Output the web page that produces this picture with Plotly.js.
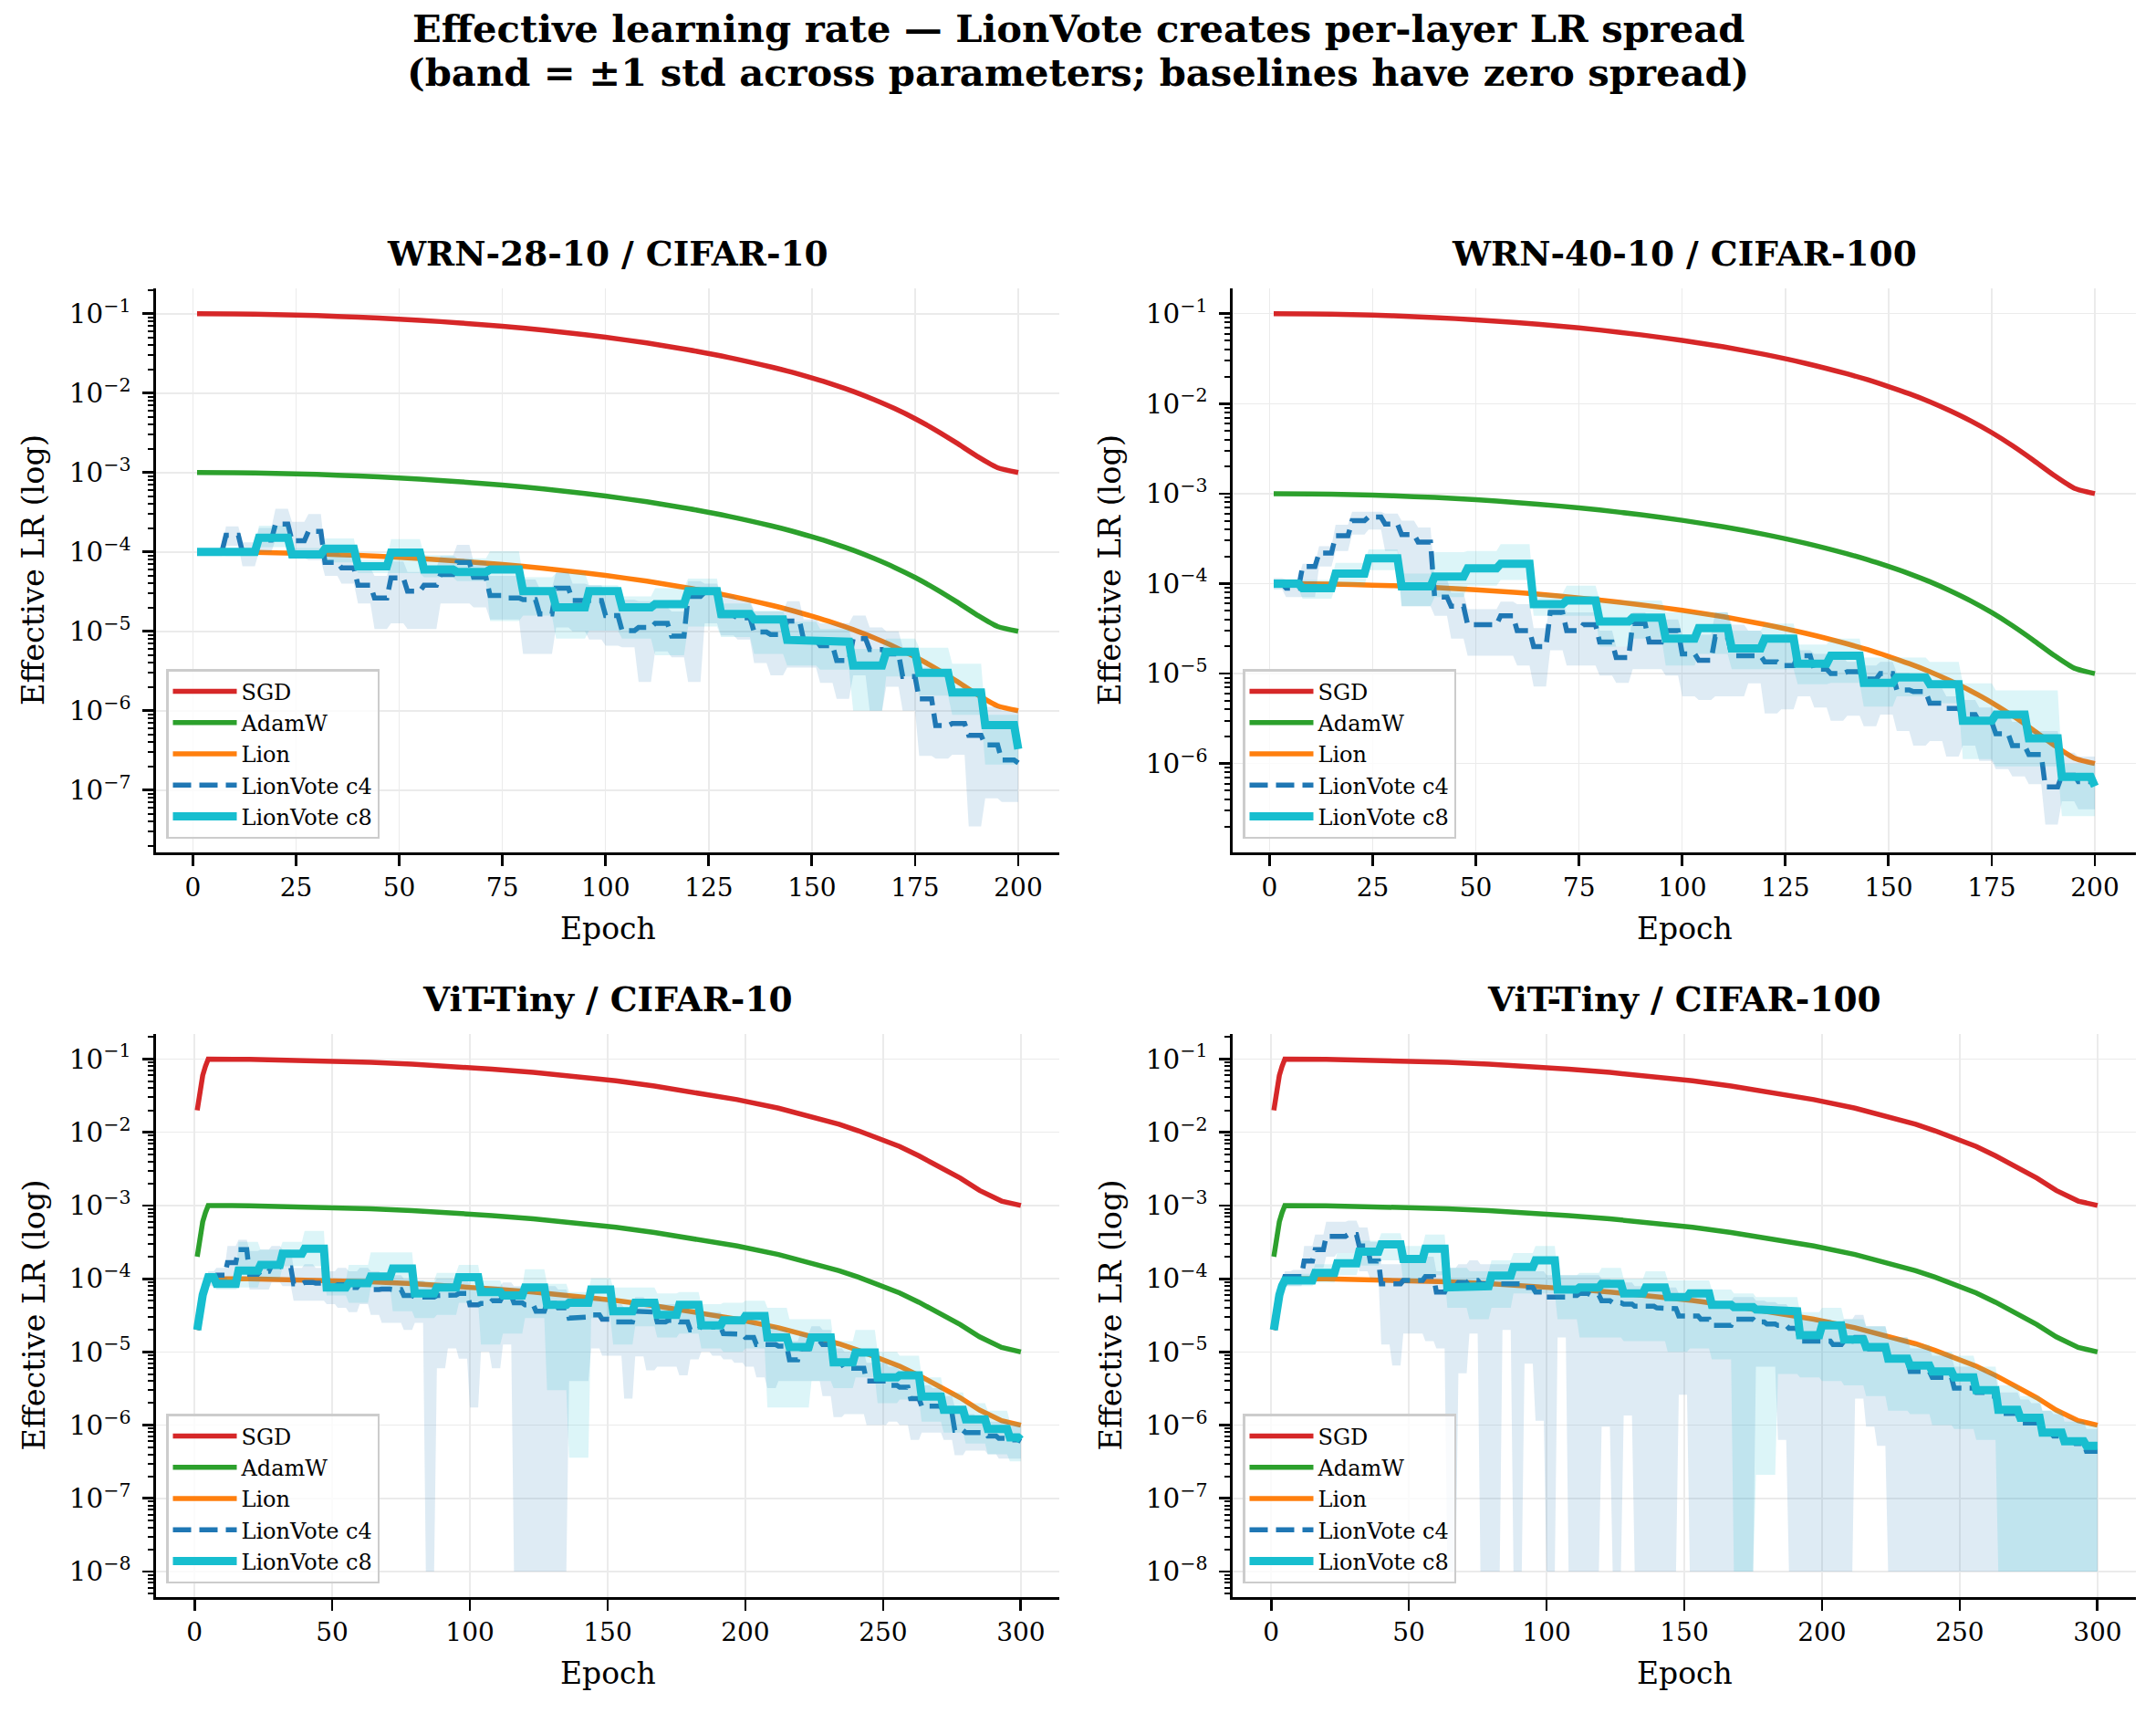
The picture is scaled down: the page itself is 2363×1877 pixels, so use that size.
<!DOCTYPE html>
<html>
<head>
<meta charset="utf-8">
<script src="https://cdn.plot.ly/plotly-3.0.1.min.js"></script>
<style>html,body{margin:0;padding:0;background:#fff;}</style>
</head>
<body>
<div id="chart" style="width:2363px;height:1877px;"></div>
<script>
// ---------- baseline schedules ----------
const EPOCHS_BASE_200 = [1,10,20,30,40,50,60,70,80,90,100,110,120,130,140,145,150,155,160,165,170,175,180,185,190,195,200];
const SGD_200   = [0.1,0.0994,0.0976,0.0946,0.0906,0.0855,0.0796,0.0730,0.0658,0.0582,0.0505,0.0428,0.0352,0.0280,0.0214,0.0184,0.0155,0.0129,0.0105,0.0083,0.0064,0.00477,0.00342,0.00237,0.00161,0.00115,0.0010];
const ADAMW_200 = [1.0e-3,9.94e-4,9.76e-4,9.46e-4,9.06e-4,8.55e-4,7.96e-4,7.30e-4,6.58e-4,5.82e-4,5.05e-4,4.28e-4,3.52e-4,2.80e-4,2.14e-4,1.84e-4,1.55e-4,1.29e-4,1.05e-4,8.3e-5,6.4e-5,4.77e-5,3.42e-5,2.37e-5,1.61e-5,1.15e-5,1.0e-5];
const LION_200  = [1.0e-4,9.94e-5,9.76e-5,9.46e-5,9.06e-5,8.55e-5,7.96e-5,7.30e-5,6.58e-5,5.82e-5,5.05e-5,4.28e-5,3.52e-5,2.80e-5,2.14e-5,1.84e-5,1.55e-5,1.29e-5,1.05e-5,8.3e-6,6.4e-6,4.77e-6,3.42e-6,2.37e-6,1.61e-6,1.15e-6,1.0e-6];

const EPOCHS_BASE_300 = [1,2,3,4,5,20,34,49,64,79,94,108,123,138,153,167,182,197,212,219,226,234,241,248,256,263,270,278,285,293,300];
const SGD_300   = [0.02,0.04,0.06,0.08,0.1,0.0994,0.0976,0.0946,0.0906,0.0855,0.0796,0.0730,0.0658,0.0582,0.0505,0.0428,0.0352,0.0280,0.0214,0.0184,0.0155,0.0129,0.0105,0.0083,0.0064,0.00477,0.00342,0.00237,0.00161,0.00115,0.0010];
const ADAMW_300 = [2e-4,4e-4,6e-4,8e-4,1e-3,9.94e-4,9.76e-4,9.46e-4,9.06e-4,8.55e-4,7.96e-4,7.30e-4,6.58e-4,5.82e-4,5.05e-4,4.28e-4,3.52e-4,2.80e-4,2.14e-4,1.84e-4,1.55e-4,1.29e-4,1.05e-4,8.3e-5,6.4e-5,4.77e-5,3.42e-5,2.37e-5,1.61e-5,1.15e-5,1.0e-5];
const LION_300  = [2e-5,4e-5,6e-5,8e-5,1e-4,9.94e-5,9.76e-5,9.46e-5,9.06e-5,8.55e-5,7.96e-5,7.30e-5,6.58e-5,5.82e-5,5.05e-5,4.28e-5,3.52e-5,2.80e-5,2.14e-5,1.84e-5,1.55e-5,1.29e-5,1.05e-5,8.3e-6,6.4e-6,4.77e-6,3.42e-6,2.37e-6,1.61e-6,1.15e-6,1.0e-6];

// ---------- LionVote block starts (value holds until the next block) ----------
const EPOCHS_C4_200 = [1,4,8,12,16,20,24,28,32,36,40,44,48,52,56,60,64,68,72,76,80,84,88,92,96,100,104,108,112,116,120,124,128,132,136,140,144,148,152,156,160,164,168,172,176,180,184,188,192,196,200];
const EPOCHS_C8_200 = [1,8,16,24,32,40,48,56,64,72,80,88,96,104,112,120,128,136,144,152,160,168,176,184,192,200];
const EPOCHS_C4_300 = [1,2,3,4,5,8,12,16,20,24,28,32,36,40,44,48,52,56,60,64,68,72,76,80,84,88,92,96,100,104,108,112,116,120,124,128,132,136,140,144,148,152,156,160,164,168,172,176,180,184,188,192,196,200,204,208,212,216,220,224,228,232,236,240,244,248,252,256,260,264,268,272,276,280,284,288,292,296,300];
const EPOCHS_C8_300 = [1,2,3,4,5,8,16,24,32,40,48,56,64,72,80,88,96,104,112,120,128,136,144,152,160,168,176,184,192,200,208,216,224,232,240,248,256,264,272,280,288,296,300];

// WRN-28-10 / CIFAR-10
const W28_C4    = [1.0e-4,1.0e-4,1.62e-4,1.0e-4,1.41e-4,2.24e-4,1.38e-4,1.82e-4,7.4e-5,6.3e-5,3.8e-5,2.63e-5,4.7e-5,3.2e-5,3.8e-5,5.2e-5,7.4e-5,4.8e-5,2.82e-5,2.63e-5,2.51e-5,1.66e-5,3.5e-5,2.45e-5,2.45e-5,1.58e-5,1.02e-5,1.12e-5,1.26e-5,8.7e-6,2.75e-5,3.1e-5,1.58e-5,1.48e-5,9.8e-6,9.1e-6,1.35e-5,7.8e-6,6.6e-6,4.3e-6,8.1e-6,5.9e-6,5.2e-6,2.7e-6,1.41e-6,6.5e-7,6.9e-7,4.9e-7,3.7e-7,2.4e-7,2.2e-7];
const W28_C4_LO = [8.9e-5,8.9e-5,1.2e-4,6.6e-5,1.0e-4,1.41e-4,8.3e-5,7.9e-5,5.0e-5,4.0e-5,2.24e-5,1.07e-5,1.26e-5,1.07e-5,1.07e-5,2.24e-5,2.24e-5,2.0e-5,1.41e-5,1.41e-5,5.2e-6,5.2e-6,1.12e-5,1.0e-5,7.9e-6,6.6e-6,6.3e-6,2.3e-6,5.6e-6,4.7e-6,2.3e-6,1.26e-5,8.9e-6,7.9e-6,4.0e-6,2.8e-6,3.5e-6,3.5e-6,2.24e-6,1.41e-6,2.8e-6,1.0e-6,2.0e-6,1.0e-6,2.7e-7,2.5e-7,2.8e-7,3.5e-8,7.9e-8,7.1e-8,7.1e-8];
const W28_C4_HI = [1.12e-4,1.12e-4,2.1e-4,1.32e-4,2.0e-4,3.5e-4,2.4e-4,3.0e-4,1.0e-4,8.9e-5,6.3e-5,5.0e-5,7.6e-5,5.6e-5,6.3e-5,8.9e-5,1.23e-4,7.6e-5,5.0e-5,5.0e-5,4.5e-5,3.5e-5,5.6e-5,4.0e-5,3.8e-5,2.8e-5,2.5e-5,2.4e-5,2.0e-5,1.78e-5,4.3e-5,4.0e-5,2.8e-5,2.5e-5,1.78e-5,1.78e-5,2.4e-5,1.41e-5,1.26e-5,1.26e-5,1.58e-5,1.12e-5,1.0e-5,6.3e-6,3.5e-6,2.8e-6,1.78e-6,1.58e-6,1.12e-6,1.0e-6,1.0e-6];
const W28_C8    = [1.0e-4,1.0e-4,1.51e-4,9.3e-5,1.1e-4,6.6e-5,9.8e-5,6.0e-5,5.6e-5,6.0e-5,3.2e-5,2.0e-5,3.2e-5,2.0e-5,2.2e-5,3.2e-5,1.66e-5,1.41e-5,7.8e-6,7.4e-6,3.7e-6,5.5e-6,3.0e-6,1.7e-6,6.6e-7,3.3e-7];
const W28_C8_LO = [9.3e-5,8.9e-5,1.15e-4,8.3e-5,7.4e-5,5.4e-5,5.4e-5,4.8e-5,4.3e-5,1.35e-5,1.58e-5,8.1e-6,1.02e-5,8.1e-6,5.0e-6,1.15e-5,8.5e-6,5.2e-6,3.7e-6,3.3e-6,1.0e-6,2.7e-6,1.55e-6,8.9e-7,2.1e-7,2.1e-7];
const W28_C8_HI = [1.07e-4,1.12e-4,2.14e-4,1.12e-4,1.48e-4,7.9e-5,1.45e-4,9.1e-5,8.3e-5,1.02e-4,4.8e-5,5.4e-5,3.8e-5,2.75e-5,3.5e-5,4.6e-5,2.24e-5,1.82e-5,1.32e-5,1.07e-5,6.0e-6,8.1e-6,6.2e-6,3.9e-6,8.9e-7,8.9e-7];

// WRN-40-10 / CIFAR-100
const W40_C4    = [1.0e-4,8.9e-5,1.55e-4,2.19e-4,3.4e-4,5.0e-4,5.5e-4,4.6e-4,3.5e-4,2.9e-4,7.1e-5,5.6e-5,3.5e-5,3.5e-5,4.4e-5,3.0e-5,2.0e-5,4.8e-5,3.0e-5,3.5e-5,2.24e-5,1.51e-5,3.6e-5,2.24e-5,3.0e-5,1.66e-5,1.41e-5,2.57e-5,1.58e-5,1.58e-5,1.35e-5,1.23e-5,1.58e-5,1.12e-5,1.0e-5,1.05e-5,8.7e-6,1.0e-5,6.6e-6,6.3e-6,4.7e-6,4.1e-6,3.5e-6,2.9e-6,2.14e-6,1.58e-6,1.26e-6,5.5e-7,7.4e-7,6.3e-7,6.0e-7];
const W40_C4_LO = [8.7e-5,7.1e-5,7.1e-5,1.55e-4,2.3e-4,3.5e-4,4.0e-4,2.3e-4,5.6e-5,5.6e-5,4.4e-5,2.45e-5,1.58e-5,1.58e-5,1.58e-5,1.23e-5,7.2e-6,1.82e-5,1.23e-5,1.23e-5,9.5e-6,7.9e-6,1.12e-5,1.12e-5,9.5e-6,5.6e-6,5.1e-6,5.6e-6,5.6e-6,7.8e-6,3.6e-6,4.0e-6,5.6e-6,4.2e-6,3.0e-6,3.4e-6,2.6e-6,3.5e-6,2.3e-6,1.58e-6,1.78e-6,1.2e-6,1.58e-6,1.07e-6,8.7e-7,7.2e-7,5.9e-7,2.1e-7,3.8e-7,3.1e-7,3.1e-7];
const W40_C4_HI = [1.15e-4,1.12e-4,1.66e-4,2.6e-4,4.5e-4,6.3e-4,6.3e-4,6.0e-4,5.0e-4,4.2e-4,1.12e-4,7.9e-5,5.2e-5,5.2e-5,6.3e-5,5.9e-5,3.2e-5,6.3e-5,4.8e-5,4.8e-5,3.0e-5,2.0e-5,4.8e-5,4.0e-5,4.0e-5,2.7e-5,2.7e-5,4.8e-5,3.5e-5,3.0e-5,2.5e-5,2.45e-5,1.82e-5,1.66e-5,1.51e-5,1.35e-5,1.23e-5,1.35e-5,1.02e-5,9.1e-6,6.8e-6,5.6e-6,5.1e-6,4.2e-6,3.5e-6,2.9e-6,2.3e-6,2.3e-6,1.32e-6,1.2e-6,1.2e-6];
const W40_C8    = [1.0e-4,8.9e-5,1.29e-4,1.91e-4,9.3e-5,1.2e-4,1.48e-4,1.66e-4,5.9e-5,6.5e-5,3.8e-5,4.2e-5,2.45e-5,3.2e-5,1.91e-5,2.45e-5,1.29e-5,1.58e-5,7.9e-6,9.1e-6,7.6e-6,3.0e-6,3.5e-6,1.91e-6,7.1e-7,5.6e-7];
const W40_C8_LO = [8.7e-5,6.8e-5,9.5e-5,1.41e-4,5.6e-5,7.1e-5,9.5e-5,1.1e-4,4.4e-5,4.4e-5,2.0e-5,2.45e-5,1.23e-5,1.66e-5,1.12e-5,1.12e-5,7.6e-6,7.9e-6,4.3e-6,5.6e-6,4.7e-6,1.12e-6,9.3e-7,9.3e-7,2.6e-7,2.6e-7];
const W40_C8_HI = [1.12e-4,1.1e-4,1.7e-4,2.4e-4,1.29e-4,2.24e-4,2.3e-4,2.75e-4,7.8e-5,9.5e-5,6.5e-5,6.5e-5,4.8e-5,4.8e-5,3.0e-5,3.6e-5,2.1e-5,2.45e-5,1.51e-5,1.51e-5,1.35e-5,7.8e-6,6.5e-6,6.5e-6,1.0e-6,1.0e-6];

// ViT-Tiny / CIFAR-10
const V10_C4    = [2e-5,4e-5,6e-5,8e-5,1.07e-4,1.12e-4,1.66e-4,2.5e-4,1.15e-4,1.26e-4,1.51e-4,1.41e-4,8.5e-5,8.9e-5,8.7e-5,7.9e-5,8.3e-5,7.6e-5,8.5e-5,7.1e-5,7.2e-5,7.1e-5,5.9e-5,5.6e-5,5.6e-5,5.9e-5,6.0e-5,6.3e-5,4.4e-5,4.6e-5,5.0e-5,5.9e-5,4.7e-5,4.4e-5,3.6e-5,4.6e-5,4.0e-5,2.9e-5,3.0e-5,3.2e-5,2.8e-5,2.57e-5,2.57e-5,3.6e-5,3.5e-5,2.57e-5,2.7e-5,2.57e-5,2.0e-5,2.3e-5,2.2e-5,1.78e-5,1.74e-5,1.58e-5,1.26e-5,1.26e-5,1.2e-5,7.8e-6,1.1e-5,1.41e-5,1.26e-5,6.9e-6,6.0e-6,6.0e-6,4.0e-6,4.0e-6,3.5e-6,3.3e-6,2.3e-6,1.82e-6,1.82e-6,1.45e-6,8.5e-7,7.9e-7,7.9e-7,7.1e-7,6.6e-7,6.3e-7,6.0e-7];
const V10_C4_LO = [1.9e-5,3.8e-5,5.7e-5,7.6e-5,7.9e-5,7.6e-5,1.05e-4,1.41e-4,7.1e-5,7.1e-5,8.9e-5,7.9e-5,5.0e-5,5.0e-5,5.0e-5,4.5e-5,4.0e-5,3.5e-5,4.5e-5,3.2e-5,2.5e-5,2.5e-5,2.0e-5,2.5e-5,1e-8,6.0e-6,1.12e-5,8.1e-6,1.74e-6,1.0e-5,6.0e-6,1.26e-5,1e-8,1e-8,1e-8,1e-8,1e-8,4.0e-6,4.0e-6,1.12e-5,8.9e-6,8.9e-6,2.3e-6,8.7e-6,5.6e-6,6.3e-6,6.3e-6,4.8e-6,7.9e-6,1.0e-5,8.9e-6,7.9e-6,7.1e-6,6.3e-6,4.5e-6,3.2e-6,4.0e-6,4.0e-6,4.0e-6,4.0e-6,2.5e-6,1.29e-6,1.41e-6,1.41e-6,1.0e-6,1.0e-6,1.12e-6,1.0e-6,6.3e-7,7.9e-7,7.9e-7,6.3e-7,3.9e-7,4.5e-7,4.5e-7,4.0e-7,3.5e-7,3.5e-7,3.5e-7];
const V10_C4_HI = [2.1e-5,4.2e-5,6.3e-5,8.4e-5,1.26e-4,1.41e-4,2.8e-4,3.4e-4,2.4e-4,2.5e-4,2.8e-4,2.5e-4,1.41e-4,1.58e-4,1.41e-4,1.26e-4,1.41e-4,1.26e-4,1.41e-4,1.26e-4,1.12e-4,1.12e-4,1.0e-4,9.5e-5,8.9e-5,1.0e-4,1.0e-4,1.0e-4,7.9e-5,7.9e-5,7.9e-5,8.9e-5,7.9e-5,7.1e-5,6.3e-5,7.9e-5,7.1e-5,5.6e-5,5.6e-5,5.6e-5,5.0e-5,4.5e-5,4.0e-5,5.6e-5,5.0e-5,4.5e-5,4.5e-5,4.0e-5,3.5e-5,3.5e-5,3.5e-5,2.8e-5,2.8e-5,2.5e-5,2.24e-5,2.24e-5,2.0e-5,1.41e-5,1.78e-5,2.24e-5,2.0e-5,1.12e-5,1.0e-5,1.0e-5,7.1e-6,7.1e-6,6.3e-6,5.6e-6,4.5e-6,3.5e-6,3.2e-6,2.5e-6,1.78e-6,1.41e-6,1.26e-6,1.12e-6,1.12e-6,1.0e-6,1.0e-6];
const V10_C8    = [2e-5,4e-5,6e-5,8e-5,1.05e-4,8.5e-5,1.29e-4,1.55e-4,2.19e-4,2.57e-4,7.6e-5,8.7e-5,1.07e-4,1.38e-4,6.3e-5,7.6e-5,1.05e-4,6.6e-5,5.9e-5,7.6e-5,4.4e-5,4.7e-5,7.1e-5,3.6e-5,4.7e-5,3.2e-5,4.4e-5,2.3e-5,2.7e-5,3.1e-5,1.58e-5,1.17e-5,1.58e-5,7.2e-6,9.8e-6,4.5e-6,4.8e-6,2.45e-6,1.62e-6,1.2e-6,8.9e-7,6.8e-7,6.3e-7];
const V10_C8_LO = [1.9e-5,3.8e-5,5.7e-5,7.6e-5,8.9e-5,7.1e-5,7.6e-5,1.0e-4,1.48e-4,1.48e-4,5.9e-5,4.7e-5,7.6e-5,3.6e-5,2.9e-5,3.2e-5,4.7e-5,1.26e-5,1.78e-5,2.9e-5,3.0e-6,3.6e-7,2.9e-5,1.26e-5,2.24e-5,1.58e-5,1.78e-5,1.12e-5,1.0e-5,1.12e-5,1.74e-6,1.74e-6,4.0e-6,3.2e-6,4.5e-6,2.0e-6,2.24e-6,1.12e-6,7.9e-7,5.6e-7,4.0e-7,3.2e-7,3.2e-7];
const V10_C8_HI = [2.1e-5,4.2e-5,6.3e-5,8.4e-5,1.2e-4,1.05e-4,3.2e-4,2.5e-4,3.2e-4,4.5e-4,9.5e-5,1.55e-4,2.3e-4,2.3e-4,9.5e-5,1.2e-4,1.55e-4,9.5e-5,7.6e-5,1.35e-4,8.5e-5,6.6e-5,1.02e-4,7.6e-5,7.6e-5,6.3e-5,6.6e-5,4.5e-5,4.7e-5,5.0e-5,4.0e-5,2.8e-5,2.8e-5,1.41e-5,2.0e-5,1.0e-5,8.9e-6,4.5e-6,2.8e-6,2.0e-6,1.58e-6,1.12e-6,1.12e-6];

// ViT-Tiny / CIFAR-100
const V100_C4    = [2e-5,4e-5,6e-5,8e-5,1.07e-4,1.07e-4,1.74e-4,2.5e-4,3.8e-4,3.8e-4,4.0e-4,2.8e-4,1.74e-4,8.5e-5,8.5e-5,9.5e-5,9.5e-5,1.07e-4,6.6e-5,7.9e-5,8.9e-5,9.5e-5,8.5e-5,8.5e-5,8.5e-5,8.5e-5,7.6e-5,6.6e-5,5.6e-5,5.6e-5,5.9e-5,6.3e-5,6.0e-5,5.0e-5,4.7e-5,4.5e-5,4.2e-5,4.2e-5,4.0e-5,3.9e-5,3.1e-5,3.1e-5,2.8e-5,2.3e-5,2.3e-5,2.8e-5,2.8e-5,2.57e-5,2.4e-5,2.3e-5,2.1e-5,1.41e-5,1.41e-5,1.41e-5,1.26e-5,1.41e-5,1.58e-5,1.1e-5,1.1e-5,7.8e-6,7.8e-6,5.4e-6,5.4e-6,4.5e-6,4.5e-6,3.2e-6,3.2e-6,2.8e-6,2.5e-6,1.45e-6,1.45e-6,1.07e-6,1.07e-6,7.9e-7,7.1e-7,6.3e-7,5.6e-7,4.4e-7,4.4e-7];
const V100_C4_LO = [1.9e-5,3.8e-5,5.7e-5,7.6e-5,7.9e-5,7.9e-5,1.0e-4,1.41e-4,2.0e-4,2.24e-4,2.24e-4,1.26e-4,1.0e-4,1.26e-5,6.5e-6,1.78e-5,1.78e-5,1.41e-5,1.12e-5,1e-8,5.1e-6,1.78e-5,1e-8,1e-8,2.0e-5,1e-8,6.9e-6,1.15e-6,1e-8,1.58e-5,1e-8,1e-8,1e-8,9.5e-7,1e-8,1.35e-6,1e-8,1e-8,1e-8,1e-8,2.6e-6,1e-8,1e-8,1e-8,1e-8,1e-8,1e-8,6.3e-6,6.3e-6,6.3e-7,1e-8,1e-8,1e-8,1e-8,1e-8,1e-8,2.3e-6,9.5e-7,5.2e-7,1e-8,1e-8,1e-8,1e-8,1e-8,1e-8,1e-8,1e-8,1e-8,1e-8,1e-8,1e-8,1e-8,1e-8,1e-8,1e-8,1e-8,1e-8,1e-8,1e-8];
const V100_C4_HI = [2.1e-5,4.2e-5,6.3e-5,8.4e-5,1.26e-4,1.32e-4,2.8e-4,4.0e-4,6.0e-4,6.0e-4,6.2e-4,5.0e-4,3.2e-4,1.58e-4,1.58e-4,1.78e-4,1.78e-4,2.0e-4,1.26e-4,1.41e-4,1.58e-4,1.78e-4,1.58e-4,1.58e-4,1.58e-4,1.51e-4,1.41e-4,1.26e-4,1.12e-4,1.12e-4,1.12e-4,1.12e-4,1.12e-4,1.0e-4,8.9e-5,8.9e-5,7.9e-5,7.9e-5,7.9e-5,7.6e-5,6.3e-5,6.3e-5,5.6e-5,5.0e-5,5.0e-5,5.6e-5,5.6e-5,5.0e-5,4.8e-5,4.5e-5,4.0e-5,2.8e-5,2.8e-5,2.8e-5,2.5e-5,2.8e-5,3.2e-5,2.24e-5,2.24e-5,1.58e-5,1.58e-5,1.12e-5,1.12e-5,8.9e-6,8.9e-6,6.3e-6,6.3e-6,5.6e-6,5.0e-6,2.8e-6,2.8e-6,2.24e-6,2.0e-6,1.58e-6,1.41e-6,1.26e-6,1.12e-6,8.9e-7,8.9e-7];
const V100_C8    = [2e-5,4e-5,6e-5,8e-5,9.5e-5,9.5e-5,1.2e-4,1.62e-4,2.34e-4,2.95e-4,1.86e-4,2.57e-4,7.6e-5,7.9e-5,1.1e-4,1.45e-4,1.78e-4,7.1e-5,7.6e-5,8.5e-5,6.3e-5,7.6e-5,5.6e-5,6.3e-5,4.4e-5,4.1e-5,3.8e-5,3.6e-5,1.7e-5,2.3e-5,1.48e-5,1.17e-5,8.1e-6,6.5e-6,5.4e-6,4.5e-6,3.0e-6,1.62e-6,1.26e-6,7.9e-7,6.0e-7,5.2e-7,5.2e-7];
const V100_C8_LO = [1.9e-5,3.8e-5,5.7e-5,7.6e-5,7.9e-5,7.9e-5,8.9e-5,1.12e-4,1.51e-4,1.78e-4,8.9e-5,1.12e-4,4.0e-5,2.8e-5,4.0e-5,6.3e-5,6.3e-5,2.8e-5,1.58e-5,1.58e-5,1.41e-5,1.41e-5,1.0e-5,1.12e-5,7.9e-6,1e-8,2.1e-7,5.0e-6,4.5e-6,4.0e-6,3.5e-6,2.5e-6,1.58e-6,1.41e-6,1.0e-6,8.9e-7,6.3e-7,1e-8,1e-8,1e-8,1e-8,1e-8,1e-8];
const V100_C8_HI = [2.1e-5,4.2e-5,6.3e-5,8.4e-5,1.17e-4,1.17e-4,1.58e-4,2.24e-4,3.3e-4,4.2e-4,2.8e-4,4.0e-4,1.41e-4,1.26e-4,1.78e-4,2.24e-4,2.8e-4,1.12e-4,1.2e-4,1.41e-4,1.0e-4,1.26e-4,9.5e-5,9.5e-5,7.1e-5,6.3e-5,5.6e-5,5.6e-5,3.5e-5,4.0e-5,2.8e-5,2.24e-5,1.58e-5,1.26e-5,1.0e-5,8.9e-6,6.3e-6,3.5e-6,2.5e-6,1.58e-6,1.12e-6,1.0e-6,1.0e-6];

const PANEL_TITLES = ['WRN-28-10 / CIFAR-10', 'WRN-40-10 / CIFAR-100', 'ViT-Tiny / CIFAR-10', 'ViT-Tiny / CIFAR-100'];
const SERIES_NAMES = ['SGD', 'AdamW', 'Lion', 'LionVote c4', 'LionVote c8'];
const X_TICKS_200 = [0, 25, 50, 75, 100, 125, 150, 175, 200];
const X_TICKS_300 = [0, 50, 100, 150, 200, 250, 300];

// ---------- styling ----------
const FONT = 'DejaVu Serif';
const COLORS = {sgd: '#d62728', adamw: '#2ca02c', lion: '#ff7f0e', c4: '#1f77b4', c8: '#17becf'};
const BAND = {c4: 'rgba(31,119,180,0.15)', c8: 'rgba(23,190,207,0.15)'};
const W = 2363, H = 1877;

const panels = [
  {base: EPOCHS_BASE_200, sgd: SGD_200, adamw: ADAMW_200, lion: LION_200,
   e4: EPOCHS_C4_200, c4: W28_C4, c4lo: W28_C4_LO, c4hi: W28_C4_HI,
   e8: EPOCHS_C8_200, c8: W28_C8, c8lo: W28_C8_LO, c8hi: W28_C8_HI,
   xTicks: X_TICKS_200, xRange: [-8.95, 209.95], yRange: [-7.784, -0.681], col: 0, row: 0, shape: 'spline'},
  {base: EPOCHS_BASE_200, sgd: SGD_200, adamw: ADAMW_200, lion: LION_200,
   e4: EPOCHS_C4_200, c4: W40_C4, c4lo: W40_C4_LO, c4hi: W40_C4_HI,
   e8: EPOCHS_C8_200, c8: W40_C8, c8lo: W40_C8_LO, c8hi: W40_C8_HI,
   xTicks: X_TICKS_200, xRange: [-8.95, 209.95], yRange: [-6.987, -0.719], col: 1, row: 0, shape: 'spline'},
  {base: EPOCHS_BASE_300, sgd: SGD_300, adamw: ADAMW_300, lion: LION_300,
   e4: EPOCHS_C4_300, c4: V10_C4, c4lo: V10_C4_LO, c4hi: V10_C4_HI,
   e8: EPOCHS_C8_300, c8: V10_C8, c8lo: V10_C8_LO, c8hi: V10_C8_HI,
   xTicks: X_TICKS_300, xRange: [-13.95, 313.95], yRange: [-8.349, -0.657], col: 0, row: 1, shape: 'linear'},
  {base: EPOCHS_BASE_300, sgd: SGD_300, adamw: ADAMW_300, lion: LION_300,
   e4: EPOCHS_C4_300, c4: V100_C4, c4lo: V100_C4_LO, c4hi: V100_C4_HI,
   e8: EPOCHS_C8_300, c8: V100_C8, c8lo: V100_C8_LO, c8hi: V100_C8_HI,
   xTicks: X_TICKS_300, xRange: [-13.95, 313.95], yRange: [-8.349, -0.657], col: 1, row: 1, shape: 'linear'}
];

// axes boxes in pixels: [left, right] and [top, bottom]
const COL_PX = [[171, 1161], [1351, 2341]];
const ROW_PX = [[316, 934], [1133, 1750]];
const px2x = p => p / W;
const px2y = p => 1 - p / H;

// a block value holds from its start epoch to the epoch before the next block
function stepped(epochs, values) {
  const x = [], y = [];
  for (let i = 0; i < epochs.length; i++) {
    const start = epochs[i];
    const end = i + 1 < epochs.length ? epochs[i + 1] - 1 : start;
    x.push(start); y.push(values[i]);
    if (end > start) { x.push(end); y.push(values[i]); }
  }
  return {x, y};
}
function band(epochs, lo, hi) {
  const up = stepped(epochs, hi), dn = stepped(epochs, lo);
  return {x: up.x.concat(dn.x.slice().reverse()), y: up.y.concat(dn.y.slice().reverse())};
}

const traces = [];
const layout = {
  width: W, height: H,
  margin: {l: 0, r: 0, t: 0, b: 0},
  paper_bgcolor: '#ffffff', plot_bgcolor: '#ffffff',
  font: {family: FONT, color: '#000000'},
  showlegend: true,
  annotations: []
};

panels.forEach((p, i) => {
  const k = i === 0 ? '' : String(i + 1);
  const xa = 'x' + k, ya = 'y' + k;
  const leg = 'legend' + k;
  const common = {xaxis: xa, yaxis: ya, legend: leg, hoverinfo: 'skip'};

  traces.push(Object.assign({type: 'scatter', mode: 'lines', name: SERIES_NAMES[0], x: p.base, y: p.sgd,
    line: {color: COLORS.sgd, width: 5.5, shape: p.shape, smoothing: 0.6}}, common));
  traces.push(Object.assign({type: 'scatter', mode: 'lines', name: SERIES_NAMES[1], x: p.base, y: p.adamw,
    line: {color: COLORS.adamw, width: 5.5, shape: p.shape, smoothing: 0.6}}, common));
  traces.push(Object.assign({type: 'scatter', mode: 'lines', name: SERIES_NAMES[2], x: p.base, y: p.lion,
    line: {color: COLORS.lion, width: 5.5, shape: p.shape, smoothing: 0.6}}, common));

  const b4 = band(p.e4, p.c4lo, p.c4hi);
  traces.push(Object.assign({type: 'scatter', mode: 'lines', x: b4.x, y: b4.y, fill: 'toself',
    fillcolor: BAND.c4, line: {width: 0, color: 'rgba(0,0,0,0)'}, showlegend: false}, common));
  const s4 = stepped(p.e4, p.c4);
  traces.push(Object.assign({type: 'scatter', mode: 'lines', name: SERIES_NAMES[3], x: s4.x, y: s4.y,
    line: {color: COLORS.c4, width: 5.5, dash: '20px,9px'}}, common));

  const b8 = band(p.e8, p.c8lo, p.c8hi);
  traces.push(Object.assign({type: 'scatter', mode: 'lines', x: b8.x, y: b8.y, fill: 'toself',
    fillcolor: BAND.c8, line: {width: 0, color: 'rgba(0,0,0,0)'}, showlegend: false}, common));
  const s8 = stepped(p.e8, p.c8);
  traces.push(Object.assign({type: 'scatter', mode: 'lines', name: SERIES_NAMES[4], x: s8.x, y: s8.y,
    line: {color: COLORS.c8, width: 9}}, common));

  const cx = COL_PX[p.col], ry = ROW_PX[p.row];
  layout['xaxis' + k] = {
    domain: [px2x(cx[0]), px2x(cx[1])], anchor: ya,
    range: p.xRange, tickmode: 'array', tickvals: p.xTicks,
    ticks: 'outside', ticklen: 12, tickwidth: 2.8, tickcolor: '#000',
    showline: true, linecolor: '#000', linewidth: 2.8,
    showgrid: true, gridcolor: '#ebebeb', gridwidth: 1.5, zeroline: false,
    tickfont: {family: FONT, size: 28, color: '#000'}, automargin: false, fixedrange: true
  };
  layout['yaxis' + k] = {
    domain: [px2y(ry[1]), px2y(ry[0])], anchor: xa,
    type: 'log', range: p.yRange, tickmode: 'linear', tick0: 0, dtick: 1,
    exponentformat: 'power', showexponent: 'all',
    ticks: 'outside', ticklen: 12, tickwidth: 2.8, tickcolor: '#000', ticklabelstandoff: 8,
    minor: {ticks: 'outside', ticklen: 6, tickwidth: 2, tickcolor: '#000', dtick: 'D1', showgrid: false},
    showline: true, linecolor: '#000', linewidth: 2.8,
    showgrid: true, gridcolor: '#ebebeb', gridwidth: 1.5, zeroline: false,
    tickfont: {family: FONT, size: 23.5, color: '#000'}, automargin: false, fixedrange: true
  };

  layout[leg] = {
    x: px2x(cx[0] + 11), y: px2y(ry[1] - 201), xanchor: 'left', yanchor: 'top',
    xref: 'paper', yref: 'paper',
    bgcolor: 'rgba(255,255,255,0.8)', bordercolor: '#cccccc', borderwidth: 2.5,
    font: {family: FONT, size: 24, color: '#000'}, itemwidth: 70, tracegroupgap: 0
  };

  const midX = (cx[0] + cx[1]) / 2;
  layout.annotations.push({text: '<b>' + PANEL_TITLES[i] + '</b>', xref: 'paper', yref: 'paper',
    x: px2x(midX), y: px2y(ry[0] - 38), xanchor: 'center', yanchor: 'middle', showarrow: false,
    font: {family: FONT, size: 37.5, color: '#000'}});
  layout.annotations.push({text: 'Epoch', xref: 'paper', yref: 'paper',
    x: px2x(midX), y: px2y(ry[1] + 83), xanchor: 'center', yanchor: 'middle', showarrow: false,
    font: {family: FONT, size: 33, color: '#000'}});
  layout.annotations.push({text: 'Effective LR (log)', xref: 'paper', yref: 'paper', textangle: -90,
    x: px2x(cx[0] - 134), y: px2y((ry[0] + ry[1]) / 2), xanchor: 'center', yanchor: 'middle', showarrow: false,
    font: {family: FONT, size: 33.5, color: '#000'}});
});

layout.annotations.push({text: '<b>Effective learning rate \u2014 LionVote creates per-layer LR spread</b>',
  xref: 'paper', yref: 'paper', x: 0.5, y: px2y(32), xanchor: 'center', yanchor: 'middle', showarrow: false,
  borderpad: 0, font: {family: FONT, size: 41.7, color: '#000'}});
layout.annotations.push({text: '<b>(band = \u00b11 std across parameters; baselines have zero spread)</b>',
  xref: 'paper', yref: 'paper', x: 0.5, y: px2y(80), xanchor: 'center', yanchor: 'middle', showarrow: false,
  borderpad: 0, font: {family: FONT, size: 41.7, color: '#000'}});

Plotly.newPlot('chart', traces, layout, {staticPlot: true, displayModeBar: false});
</script>
</body>
</html>
